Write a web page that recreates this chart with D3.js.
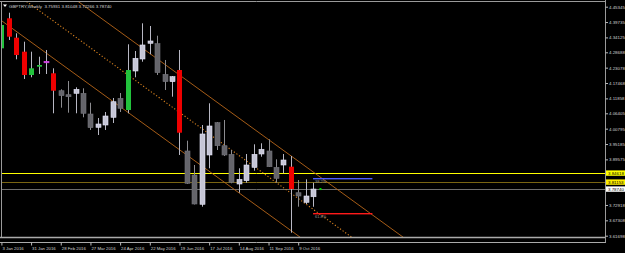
<!DOCTYPE html>
<html lang="en">
<head>
<meta charset="UTF-8">
<title>GBPTRY Weekly</title>
<script src="https://cdn.jsdelivr.net/npm/d3@7"></script>
<style>
    body { margin: 0; background: #000; }
    svg { display: block; }
    text { font-family: "Liberation Sans", Arial, sans-serif; }
</style>
</head>
<body>
<script>
    // weekly bars, 3 Jan 2016 .. 23 Oct 2016
    var candleOpen  = [4.3015, 4.4111, 4.3402, 4.2891, 4.2040, 4.2343, 4.2500, 4.2102, 4.1466, 4.1320,
                       4.1371, 4.1371, 4.0615, 4.0129, 4.0213, 4.0495, 4.1189, 4.0761, 4.2186, 4.2624,
                       4.3198, 4.3183, 4.2065, 4.1795, 4.2222, 3.9264, 3.8387, 3.7317, 3.9118, 4.0298,
                       3.9457, 3.9143, 3.8058, 3.8179, 3.8668, 3.9154, 3.9264, 3.8668, 3.8752, 3.8690,
                       3.7740, 3.7390, 3.75931];
    var candleHigh  = [4.3900, 4.4315, 4.3563, 4.3256, 4.2891, 4.2708, 4.2953, 4.2284, 4.1517, 4.1821,
                       4.1590, 4.1554, 4.1028, 4.0469, 4.0688, 4.1200, 4.1382, 4.3161, 4.2916, 4.3928,
                       4.3830, 4.3475, 4.2588, 4.2003, 4.2953, 3.9640, 3.8752, 4.0213, 4.1006, 4.0323,
                       4.0396, 3.9300, 3.8632, 3.9154, 3.9508, 3.9545, 3.9691, 3.8960, 3.9154, 3.9081,
                       3.8204, 3.8230, 3.81048];
    var candleLow   = [4.2953, 4.3318, 4.2613, 4.1894, 4.1956, 4.2076, 4.2076, 4.0641, 4.0846, 4.0663,
                       4.0641, 4.0495, 4.0031, 3.9848, 4.0031, 4.0286, 4.0688, 4.0641, 4.1956, 4.2525,
                       4.2796, 4.2040, 4.1492, 4.1247, 3.9118, 3.8058, 3.7310, 3.7229, 3.8632, 3.9300,
                       3.9081, 3.8084, 3.7740, 3.8106, 3.8544, 3.9055, 3.8679, 3.8106, 3.8449, 3.6279,
                       3.7229, 3.7328, 3.72266];
    var candleClose = [4.3866, 4.3439, 4.2770, 4.2040, 4.2284, 4.2405, 4.2540, 4.1466, 4.1284, 4.1247,
                       4.1517, 4.0641, 4.0115, 4.0250, 4.0542, 4.1064, 4.0824, 4.2222, 4.2650, 4.3136,
                       4.3282, 4.2124, 4.1795, 4.1978, 3.9932, 3.8084, 3.7328, 3.9885, 4.0177, 3.9457,
                       3.9118, 3.8120, 3.8230, 3.8752, 3.9143, 3.9326, 3.8690, 3.8266, 3.8935, 3.7876,
                       3.7620, 3.7620, 3.78740];
    // bars the indicator paints in colour (others are plain up / down)
    var strongUpBars   = [0, 4, 5, 17];
    var strongDownBars = [1, 2, 3, 7, 24, 39];
    var dojiBars       = [6];

    var dateTickBars   = [0, 4, 8, 12, 16, 20, 24, 28, 32, 36, 40];
    var dateTickLabels = ["3 Jan 2016", "31 Jan 2016", "28 Feb 2016", "27 Mar 2016", "24 Apr 2016", "22 May 2016",
                          "19 Jun 2016", "17 Jul 2016", "14 Aug 2016", "11 Sep 2016", "9 Oct 2016"];
    var priceTickLabels = ["4.45345", "4.39735", "4.34125", "4.28688", "4.23078", "4.17468", "4.11858",
                           "4.06405", "4.00795", "3.95185", "3.89575", "3.72918", "3.67308", "3.61698"];

    var levelPrices = [3.84618, 3.81153, 3.78740];       // yellow, gold, bid line
    var channelStart = [14, 4.4005];                      // upper channel line, [bar, price]
    var channelEnd   = [44, 3.8109];
    var channelWidth = 0.2729;
    var fiboPrices = [3.8266, 3.7016];
    var fiboLabels = ["38.2%", "61.8%"];
    var fiboBars   = [42, 50];
    var header = "GBPTRY,Weekly  3.75931 3.81048 3.72266 3.78740";

    var W = 625, H = 253;
    var plotR = 605, plotB = 237.5;

    var x = d3.scaleLinear().domain([0, 1]).range([1.4, 8.82]);
    var y = d3.scaleLinear().domain([4.47792, 3.61223]).range([0, 237]);

    var svg = d3.select("body").append("svg")
        .attr("width", W).attr("height", H)
        .style("background", "#000");

    svg.append("clipPath").attr("id", "plot")
        .append("rect").attr("x", 1.5).attr("y", 1.5).attr("width", plotR - 1.5).attr("height", plotB - 1.5);

    var plot = svg.append("g").attr("clip-path", "url(#plot)");

    // horizontal levels
    var levelColors = ["#ffff00", "#7a6512", "#6e6e6e"];
    plot.selectAll(".level").data(levelPrices).enter().append("line")
        .attr("x1", 0).attr("x2", plotR)
        .attr("y1", function(d) { return Math.round(y(d)) + 0.5; })
        .attr("y2", function(d) { return Math.round(y(d)) + 0.5; })
        .attr("stroke", function(d, i) { return levelColors[i]; })
        .attr("stroke-width", 1);

    // channel
    var slope = (channelEnd[1] - channelStart[1]) / (channelEnd[0] - channelStart[0]);
    function chanPrice(k, off) { return channelStart[1] + slope * (k - channelStart[0]) - off; }
    [0, 0.5, 1].forEach(function(f) {
        plot.append("line")
            .attr("x1", x(-20)).attr("y1", y(chanPrice(-20, f * channelWidth)))
            .attr("x2", x(90)).attr("y2", y(chanPrice(90, f * channelWidth)))
            .attr("stroke", f === 0.5 ? "#d9821f" : "#b8661a")
            .attr("stroke-width", f === 0.5 ? 1.1 : 0.9)
            .attr("stroke-dasharray", f === 0.5 ? "1.2,2" : null);
    });

    // fibo levels
    var fiboColors = ["#4d5cff", "#ff1a1a"];
    fiboPrices.forEach(function(p, i) {
        plot.append("rect")
            .attr("x", x(fiboBars[0])).attr("width", x(fiboBars[1]) - x(fiboBars[0]))
            .attr("y", Math.round(y(p))).attr("height", 1.4)
            .attr("fill", fiboColors[i]);
        plot.append("text")
            .attr("x", x(fiboBars[0]) + 2).attr("y", y(p) + 5)
            .attr("font-size", 4).attr("fill", "#9a9a9a")
            .text(fiboLabels[i]);
    });

    // candles
    var bars = d3.range(candleOpen.length);
    function bodyColor(k) {
        if (strongUpBars.indexOf(k) >= 0) return "#22c23c";
        if (strongDownBars.indexOf(k) >= 0) return "#ee0000";
        if (dojiBars.indexOf(k) >= 0) return "#c43fd6";
        return candleClose[k] >= candleOpen[k] ? "#c6c6d6" : "#65656b";
    }
    function wickColor(k) {
        if (strongUpBars.indexOf(k) < 0 && strongDownBars.indexOf(k) < 0 &&
            dojiBars.indexOf(k) < 0 && candleClose[k] < candleOpen[k]) return "#8c8c90";
        return "#b8b8c4";
    }

    var candles = plot.selectAll(".candle").data(bars).enter().append("g");
    candles.append("line")
        .attr("x1", function(k) { return Math.round(x(k)) + 0.5; })
        .attr("x2", function(k) { return Math.round(x(k)) + 0.5; })
        .attr("y1", function(k) { return y(candleHigh[k]); })
        .attr("y2", function(k) { return y(candleLow[k]); })
        .attr("stroke", wickColor).attr("stroke-width", 1);
    candles.append("rect")
        .attr("x", function(k) { return Math.round(x(k)) - 2; })
        .attr("width", 5)
        .attr("y", function(k) { return y(Math.max(candleOpen[k], candleClose[k])); })
        .attr("height", function(k) {
            return Math.max(1.5, Math.abs(y(candleOpen[k]) - y(candleClose[k])));
        })
        .attr("fill", bodyColor)
        .attr("stroke", function(k) {
            var c = d3.color(bodyColor(k));
            return (strongUpBars.indexOf(k) >= 0 || strongDownBars.indexOf(k) >= 0) ? "none" : c.brighter(0.4);
        })
        .attr("stroke-width", 0.6);

    // bid marker
    plot.append("rect")
        .attr("x", x(43) - 1).attr("y", y(levelPrices[2]) - 1)
        .attr("width", 2).attr("height", 2).attr("fill", "#00e000");

    // frame
    var frame = svg.append("g").attr("fill", "none").attr("stroke", "#9a9a9a");
    frame.append("line").attr("x1", 0).attr("x2", plotR).attr("y1", 1.5).attr("y2", 1.5);
    frame.append("line").attr("x1", 1.5).attr("x2", 1.5).attr("y1", 1.5).attr("y2", plotB);
    frame.append("line").attr("x1", plotR + 0.5).attr("x2", plotR + 0.5).attr("y1", 0).attr("y2", 243);
    frame.append("line").attr("x1", 0).attr("x2", plotR).attr("y1", plotB).attr("y2", plotB)
        .attr("stroke-width", 1.6).attr("stroke", "#aaaaaa");

    // price axis
    var yAxis = d3.axisRight(y)
        .tickValues(priceTickLabels.map(Number))
        .tickFormat(function(d, i) { return priceTickLabels[i]; })
        .tickSize(2.5).tickPadding(1);
    var ya = svg.append("g").attr("transform", "translate(" + (plotR + 0.5) + ",0)").call(yAxis);
    ya.select(".domain").remove();
    ya.selectAll("line").attr("stroke", "#bbbbbb");
    ya.selectAll("text").attr("font-size", 4.4).attr("fill", "#d2d2d2").attr("font-family", null);

    // price tags for the levels
    var tagFill = ["#ffff00", "#ffee00", "#ffffff"];
    levelPrices.forEach(function(p, i) {
        var g = svg.append("g").attr("transform", "translate(" + (plotR + 1) + "," + Math.round(y(p)) + ")");
        g.append("rect").attr("x", 0).attr("y", -2.6).attr("width", 19).attr("height", 5.4).attr("fill", tagFill[i]);
        g.append("text").attr("x", 2).attr("y", 1.7).attr("font-size", 4.4).attr("fill", "#000")
            .text(p.toFixed(5));
    });

    // time axis
    var xAxis = d3.axisBottom(x)
        .tickValues(dateTickBars)
        .tickFormat(function(d, i) { return dateTickLabels[i]; })
        .tickSize(3).tickSizeOuter(0).tickPadding(1.5);
    var xa = svg.append("g").attr("transform", "translate(0,242.5)").call(xAxis);
    xa.select(".domain").attr("d", "M0,0H" + (plotR + 0.5)).attr("stroke", "#aaaaaa");
    xa.selectAll("line").attr("stroke", "#bbbbbb");
    xa.selectAll("text").attr("font-size", 4.3).attr("fill", "#d2d2d2")
        .attr("text-anchor", "start").attr("dx", 0.5).attr("font-family", null);

    // header
    svg.append("path").attr("d", "M3,4.5h4l-2,2.5z").attr("fill", "#ffffff");
    svg.append("text").attr("x", 9).attr("y", 7.6)
        .attr("font-size", 4.4).attr("fill", "#d8d8d8")
        .attr("xml:space", "preserve")
        .text(header);
</script>
</body>
</html>
